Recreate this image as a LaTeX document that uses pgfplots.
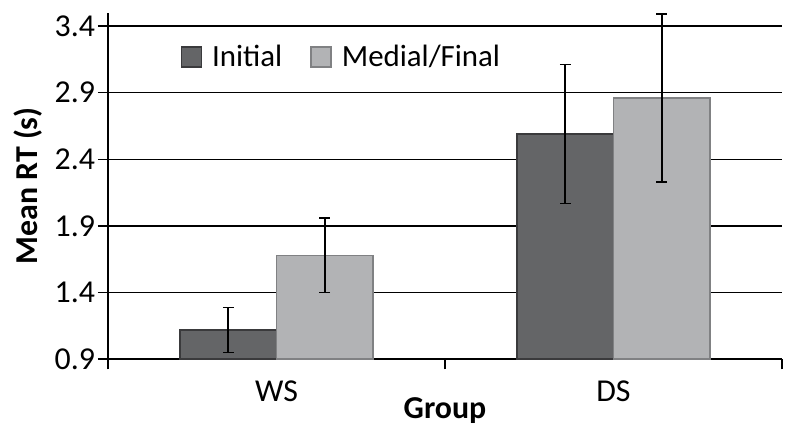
\documentclass[border=0pt]{standalone}
\usepackage{fontspec}
\setmainfont{Carlito}
\usepackage{pgfplots}
\pgfplotsset{compat=1.18}
\definecolor{cinit}{HTML}{646567}
\definecolor{cinitE}{HTML}{3A3A3C}
\definecolor{cmed}{HTML}{B2B3B5}
\definecolor{cmedE}{HTML}{808183}
\begin{document}
\begin{tikzpicture}
\useasboundingbox (-54bp,-38.85bp) rectangle (346bp,179.65bp);
\begin{axis}[
  at={(0,0)}, anchor=south west,
  width=337bp, height=173.3bp, scale only axis,
  xmin=-0.5, xmax=1.5, ymin=0.9, ymax=3.5,
  axis x line*=bottom, axis y line*=left,
  axis line style={black, line width=0.8bp},
  ybar=0pt, bar width=48.25bp,
  xtick={0,1}, xticklabels={WS,DS},
  minor xtick={-0.5,0.5,1.5},
  ytick={0.9,1.4,1.9,2.4,2.9,3.4},
  yticklabel style={/tikz/xshift=2bp, /pgf/number format/.cd, fixed, fixed zerofill, precision=1},
  /pgf/number format/assume math mode=true,
  tick align=outside,
  major x tick style={draw=none},
  major tick length=5bp, minor tick length=5bp,
  tick style={black, line width=0.8bp},
  ymajorgrids, grid style={black, line width=0.8bp},
  tick label style={font=\fontsize{16}{18}\selectfont},
  xlabel={\textbf{Group}}, ylabel={\textbf{Mean RT (s)}},
  label style={font=\fontsize{16}{18}\selectfont},
  x label style={at={(axis description cs:0.5,-0.147)}, anchor=center},
  y label style={at={(axis description cs:-0.119,0.5)}, anchor=center},
  xticklabel style={anchor=center, yshift=-11bp},
  legend style={draw=none, fill=none, at={(rel axis cs:0.107,0.872)}, anchor=west,
    font=\fontsize{15.5}{17}\selectfont, inner xsep=0pt,
    /tikz/every even column/.append style={column sep=12bp}},
  legend columns=2,
  legend image code/.code={\draw[#1] (0bp,-5bp) rectangle (10bp,5bp); \path (13bp,0bp);},
  error bars/y dir=both, error bars/y explicit,
  error bars/error bar style={black, line width=0.8bp},
  error bars/error mark options={rotate=90, mark size=2.7bp, line width=0.8bp, black},
]
\addplot[fill=cinit, draw=cinitE, line width=0.8bp] coordinates {
  (0,1.12) +- (0,0.17)
  (1,2.59) +- (0,0.52)
};
\addplot[fill=cmed, draw=cmedE, line width=0.8bp] coordinates {
  (0,1.68) +- (0,0.28)
  (1,2.86) +- (0,0.63)
};
\legend{Initial, Medial/Final}
\end{axis}
\end{tikzpicture}
\end{document}
